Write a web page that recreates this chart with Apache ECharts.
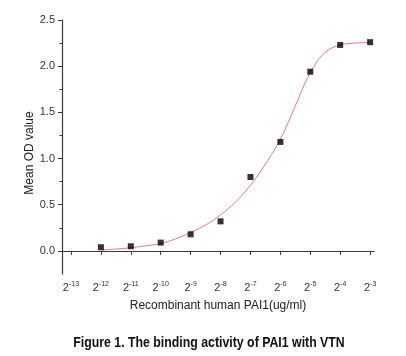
<!DOCTYPE html>
<html>
<head>
<meta charset="utf-8">
<script src="https://cdn.jsdelivr.net/npm/echarts@6/dist/echarts.min.js"></script>
<style>
html,body{margin:0;padding:0;background:#fff;}
#c{width:406px;height:356px;}
</style>
</head>
<body>
<div id="c"></div>
<script>
// log2 concentration of each measured point
var pointX = [-12, -11, -10, -9, -8, -7, -6, -5, -4, -3];
// mean OD values of the points
var pointY = [0.04, 0.05, 0.09, 0.18, 0.32, 0.80, 1.18, 1.94, 2.23, 2.26];
// fitted curve
var curveX = [-12, -11.5, -11, -10.5, -10, -9.5, -9, -8.5, -8, -7.5, -7, -6.5, -6, -5.5, -5, -4.5, -4, -3.5, -3];
var curveY = [0.01, 0.02, 0.035, 0.055, 0.08, 0.13, 0.2, 0.28, 0.39, 0.53, 0.71, 0.94, 1.21, 1.57, 1.93, 2.15, 2.23, 2.25, 2.26];
// axis ticks
var xTicks = [-13, -12, -11, -10, -9, -8, -7, -6, -5, -4, -3];
var yTicks = [0, 0.5, 1.0, 1.5, 2.0, 2.5];
var yMinorTicks = [0.25, 0.75, 1.25, 1.75, 2.25];
var xTitle = 'Recombinant human PAI1(ug/ml)';
var yTitle = 'Mean OD value';
var figTitle = 'Figure 1. The binding activity of PAI1 with VTN';

var chart = echarts.init(document.getElementById('c'), null, {renderer: 'canvas'});
var axisColor = '#3a3a3a';
var font = 'Liberation Sans, Arial, sans-serif';

var option = {
  backgroundColor: '#fff',
  animation: false,
  grid: {left: 62, right: 32, top: 20, bottom: 82},
  xAxis: {
    type: 'value',
    min: -13.3,
    max: -2.87,
    splitLine: {show: false},
    axisLine: {lineStyle: {color: axisColor, width: 1.2}},
    axisTick: {show: true, length: 4, customValues: xTicks, lineStyle: {color: axisColor}},
    axisLabel: {
      customValues: xTicks,
      margin: 7,
      formatter: function (v) { return '{b|2}{s|' + v + '}'; },
      rich: {
        b: {fontSize: 11, fontFamily: font, color: '#333'},
        s: {fontSize: 7, fontFamily: font, color: '#333', padding: [0, 0, 7, 0]}
      }
    },
    name: xTitle,
    nameLocation: 'middle',
    nameGap: 26,
    nameTextStyle: {fontSize: 12, fontFamily: font, color: '#222'}
  },
  yAxis: [{
    type: 'value',
    min: -0.25,
    max: 2.5,
    splitLine: {show: false},
    axisLine: {show: true, lineStyle: {color: axisColor, width: 1.2}},
    axisTick: {show: true, length: 4, customValues: yTicks, lineStyle: {color: axisColor}},
    axisLabel: {
      customValues: yTicks,
      margin: 7,
      fontSize: 11,
      fontFamily: font,
      color: '#333',
      formatter: function (v) { return v.toFixed(1); }
    }
  }, {
    type: 'value',
    position: 'left',
    min: -0.25,
    max: 2.5,
    splitLine: {show: false},
    axisLine: {show: false},
    axisTick: {show: true, length: 2.5, customValues: yMinorTicks, lineStyle: {color: axisColor}},
    axisLabel: {show: false}
  }],
  graphic: [{
    type: 'text',
    x: 30,
    y: 153,
    rotation: Math.PI / 2,
    style: {
      text: yTitle,
      font: '12px "Liberation Sans", Arial, sans-serif',
      fill: '#222',
      align: 'center',
      verticalAlign: 'middle'
    }
  }, {
    type: 'text',
    x: 209,
    y: 343,
    scaleX: 0.88,
    style: {
      text: figTitle,
      font: 'bold 14px "Liberation Sans", sans-serif',
      fill: '#111',
      align: 'center',
      verticalAlign: 'middle'
    }
  }],
  series: [{
    type: 'line',
    data: curveX.map(function (x, i) { return [x, curveY[i]]; }),
    smooth: 0.4,
    showSymbol: false,
    lineStyle: {color: '#e87a7a', width: 1},
    z: 2
  }, {
    type: 'scatter',
    data: pointX.map(function (x, i) { return [x, pointY[i]]; }),
    symbol: 'rect',
    symbolSize: 6,
    itemStyle: {color: '#000'},
    z: 3
  }]
};
chart.setOption(option);
</script>
</body>
</html>
